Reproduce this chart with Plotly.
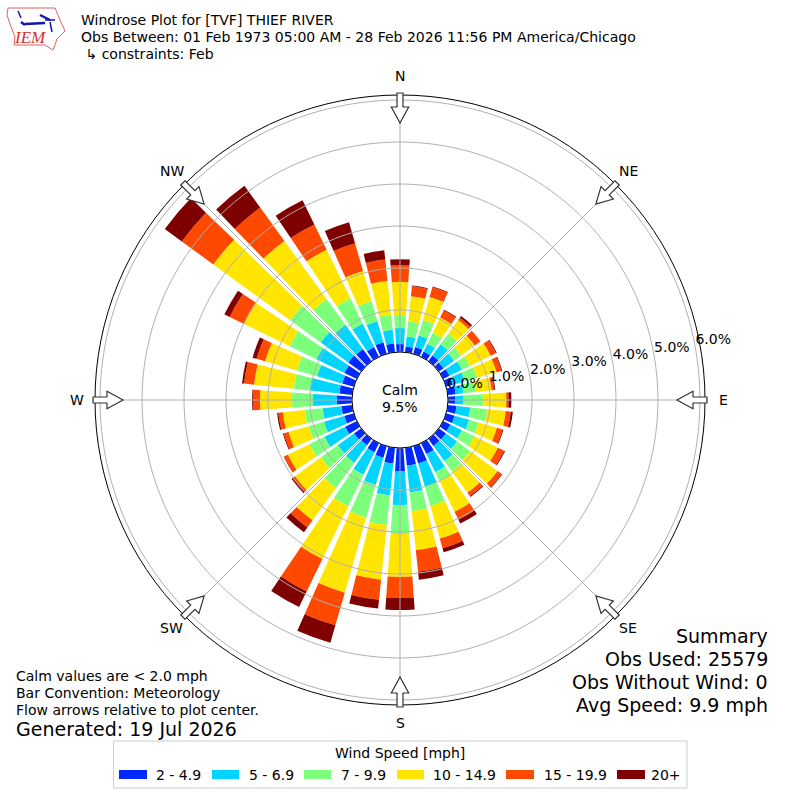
import numpy as np
import plotly.graph_objects as go

# direction the wind comes from, degrees
directions = list(range(0, 360, 10))

# percent of obs per speed bin (N, 10, 20 ... 350)
speed_2_5 = [.19, .14, .17, .14, .17, .14, .17, .17, .19, .17, .21, .21, .19, .21, .21, .29, .43, .43,
             .55, .38, .29, .24, .19, .21, .31, .24, .26, .36, .31, .29, .33, .38, .36, .26, .29, .21]
speed_5_7 = [.38, .24, .29, .21, .33, .31, .33, .29, .19, .19, .33, .36, .31, .33, .45, .48, .57, .64,
             .81, .76, .67, .60, .52, .48, .55, .50, .45, .57, .71, .62, .74, .81, .71, .62, .52, .33]
speed_7_10 = [.31, .36, .38, .29, .31, .21, .21, .31, .29, .48, .40, .24, .33, .38, .31, .24, .48, .45,
              .69, .71, .81, .83, .74, .50, .40, .38, .43, .50, .38, .50, .71, .90, .76, .67, .50, .36]
speed_10_15 = [.79, .60, .57, .40, .40, .40, .55, .48, .38, .55, .45, .45, .62, .81, .62, .81, .81, .93,
               1.02, 1.31, 1.86, 1.40, .95, .76, .57, .50, .52, .76, .95, .79, 1.21, 2.26, 1.71, 1.29, .74, .81]
speed_15_20 = [.40, .24, .24, .19, .07, .17, .14, .12, .07, .05, .12, .14, .17, .12, .10, .21, .24, .52,
               .50, .48, .81, .86, .21, .07, .10, .12, .11, .17, .24, .21, .38, .93, .98, .67, .69, .51]
speed_20_up = [.14, .02, .02, .02, .05, .00, .02, .02, .02, .07, .05, .02, .02, .02, .02, .10, .10, .19,
               .29, .21, .43, .41, .14, .03, .01, .02, .03, .02, .05, .10, .14, .50, .64, .64, .52, .22]

speed_bins = [speed_2_5, speed_5_7, speed_7_10, speed_10_15, speed_15_20, speed_20_up]
speed_labels = ["2 - 4.9", "5 - 6.9", "7 - 9.9", "10 - 14.9", "15 - 19.9", "20+"]
speed_colors = ["#0028ff", "#00d4ff", "#7cff7a", "#ffe500", "#ff4800", "#7f0000"]

compass_angles = [0, 45, 90, 135, 180, 225, 270, 315]
compass_labels = ["N", "NE", "E", "SE", "S", "SW", "W", "NW"]
radial_ticks = [0, 1, 2, 3, 4, 5, 6]
radial_labels = ["0.0%", "1.0%", "2.0%", "3.0%", "4.0%", "5.0%", "6.0%"]
RMAX = 6.12

FONT = "DejaVu Sans"
GRID = "#b0b0b0"


def px(x):
    return x / 800


def py(y):
    return 1 - y / 800


def note(text, x, y, size=14, xanchor="left"):
    # annotations carry about 2px of padding, take it back out
    if xanchor == "left":
        x -= 2
    elif xanchor == "right":
        x += 2
    return dict(text=text, x=px(x), y=py(y), xref="paper", yref="paper", showarrow=False,
                xanchor=xanchor, yanchor="middle", font=dict(family=FONT, size=size, color="black"))


def poly(points):
    return "M" + " L".join(f"{px(x):.5f},{py(y):.5f}" for x, y in points) + " Z"


fig = go.Figure()
for values, label, color in zip(speed_bins, speed_labels, speed_colors):
    fig.add_trace(go.Barpolar(r=values, theta=directions, width=8, name=label,
                              marker=dict(color=color, line=dict(width=0)), showlegend=False))

# the grid runs over the bars here, so it goes in as line traces
ring_theta = list(range(0, 361, 2))
for tick in radial_ticks:
    fig.add_trace(go.Scatterpolar(r=[tick] * len(ring_theta), theta=ring_theta, mode="lines", showlegend=False,
                                  line=dict(color=GRID, width=1), hoverinfo="skip"))
for ang in compass_angles:
    fig.add_trace(go.Scatterpolar(r=[0, RMAX], theta=[ang, ang], mode="lines", showlegend=False,
                                  line=dict(color=GRID, width=1), hoverinfo="skip"))

# percent labels sit along the 80 degree spoke
fig.add_trace(go.Scatterpolar(r=radial_ticks, theta=[80] * len(radial_ticks), text=radial_labels,
                              mode="text", textposition="top right", cliponaxis=False, showlegend=False,
                              textfont=dict(family=FONT, size=14, color="black"), hoverinfo="skip"))

shapes = []

# hollow flow arrows, pointing at the plot center
arrow = np.array([[307, -3], [293, -3], [293, -8.7], [277, 0], [293, 8.7], [293, 3], [307, 3]])
for ang in compass_angles:
    a = np.radians(ang)
    xs = 400 + arrow[:, 0] * np.sin(a) + arrow[:, 1] * np.cos(a)
    ys = 400 - arrow[:, 0] * np.cos(a) + arrow[:, 1] * np.sin(a)
    shapes.append(dict(type="path", path=poly(zip(xs, ys)), xref="paper", yref="paper", fillcolor="white",
                       line=dict(color="#333333", width=1.2)))

# legend box
shapes.append(dict(type="rect", x0=px(113.5), x1=px(687), y0=py(741), y1=py(788), xref="paper", yref="paper",
                   fillcolor="white", line=dict(color="#cccccc", width=1)))
swatch_x = [119, 212, 304, 397, 506, 617]
swatch_w = [28, 27, 27, 27, 28, 28]
label_x = [156, 249, 341, 433, 544, 651]
for sx, sw, color in zip(swatch_x, swatch_w, speed_colors):
    shapes.append(dict(type="rect", x0=px(sx), x1=px(sx + sw), y0=py(770), y1=py(779), xref="paper", yref="paper",
                       fillcolor=color, line=dict(width=0)))

# logo, Iowa outline and the little blue mark
iowa = [(8, 8), (55, 8), (58, 15), (60, 20), (65, 31), (57, 39), (53, 50), (45, 45), (14, 45), (15, 37), (10, 24), (7, 15)]
shapes.append(dict(type="path", path=poly(iowa), xref="paper", yref="paper", line=dict(color="#e06060", width=1)))
logo_lines = [((25, 24), (45, 23), 2.5), ((40, 15), (50, 20), 2.5), ((45, 20), (55, 20), 1.5),
              ((18, 11), (21, 18), 1.5), ((50, 22), (52, 32), 1.5), ((21, 22), (25, 25), 2.5)]
for (x0, y0), (x1, y1), w in logo_lines:
    shapes.append(dict(type="line", x0=px(x0), y0=py(y0), x1=px(x1), y1=py(y1), xref="paper", yref="paper",
                       line=dict(color="#1414b4", width=w)))

annotations = [
    note("Windrose Plot for [TVF] THIEF RIVER", 81, 20, size=14.03),
    note("Obs Between: 01 Feb 1973 05:00 AM - 28 Feb 2026 11:56 PM America/Chicago", 81, 37, size=14.03),
    note(" ↳ constraints: Feb", 81, 54, size=14.03),
    note("Calm", 400, 390, xanchor="center"),
    note("9.5%", 400, 407, xanchor="center"),
    note("Calm values are &lt; 2.0 mph", 16, 676),
    note("Bar Convention: Meteorology", 16, 693),
    note("Flow arrows relative to plot center.", 16, 710),
    note("Generated: 19 Jul 2026", 16, 729, size=19),
    note("Summary", 768, 636, size=19, xanchor="right"),
    note("Obs Used: 25579", 768, 659, size=19, xanchor="right"),
    note("Obs Without Wind: 0", 768, 682, size=19, xanchor="right"),
    note("Avg Speed: 9.9 mph", 768, 705, size=19, xanchor="right"),
    note("Wind Speed [mph]", 400, 753, xanchor="center"),
    dict(text="<i>IEM</i>", x=px(30), y=py(38), xref="paper", yref="paper", showarrow=False,
         xanchor="center", yanchor="middle", font=dict(family="Liberation Serif", size=17, color="#d93030")),
]
for lx, label in zip(label_x, speed_labels):
    annotations.append(note(label, lx, 775))
for ang, label in zip(compass_angles, compass_labels):
    a = np.radians(ang)
    annotations.append(note(label, 400 + 323 * np.sin(a), 399.5 - 323 * np.cos(a), xanchor="center"))

fig.update_layout(
    width=800, height=800, margin=dict(l=0, r=0, t=0, b=0), paper_bgcolor="white",
    shapes=shapes, annotations=annotations,
    polar=dict(
        domain=dict(x=[95 / 800, 705 / 800], y=[95 / 800, 705 / 800]),
        hole=48 / 305, bgcolor="white", barmode="stack",
        radialaxis=dict(range=[0, RMAX], showgrid=False, showticklabels=False, ticks="", showline=False),
        angularaxis=dict(direction="clockwise", rotation=90, showgrid=False, showticklabels=False, ticks="",
                         linecolor="black", linewidth=1),
    ),
)

fig.write_html("out.html", config=dict(displayModeBar=False), post_script="document.body.style.margin='0';")
